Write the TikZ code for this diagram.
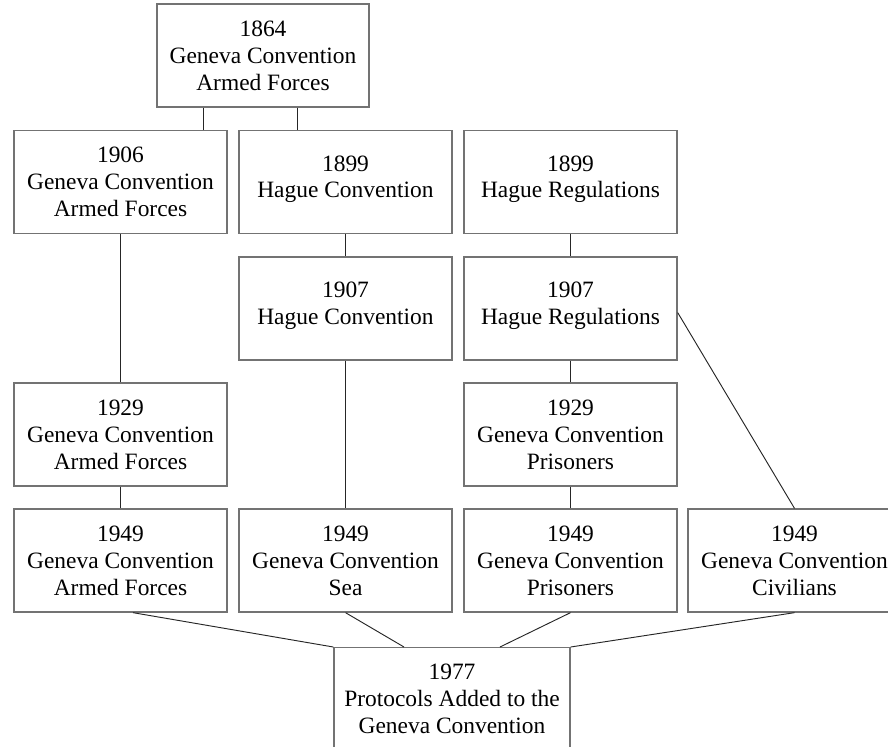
\documentclass[tikz,border=0pt]{standalone}
\usepackage{fontspec}
\setmainfont{Liberation Serif}
\usetikzlibrary{calc}

\begin{document}
\begin{tikzpicture}[x=0.03cm, y=-0.03cm,
        treaty/.style={draw=black!55, line width=1.1pt, fill=white, align=center,
            minimum width=6.39cm, minimum height=3.09cm, inner sep=0pt,
            font=\fontsize{20}{23}\selectfont},
        link/.style={draw=black!85, line width=0.8pt}]
        \clip (0,0) rectangle (888,746);

        \node [treaty, minimum width=6.36cm] (g1864) at (263,55.5) {1864\\Geneva Convention\\Armed Forces};

        \node [treaty] (g1906) at (120.5,182) {1906\\Geneva Convention\\Armed Forces};
        \node [treaty] (h1899c) at (345.5,182) {1899\\Hague Convention\\[-14pt]};
        \node [treaty] (h1899r) at (570.5,182) {1899\\Hague Regulations\\[-14pt]};

        \node [treaty] (h1907c) at (345.5,308.5) {1907\\Hague Convention\\[-14pt]};
        \node [treaty] (h1907r) at (570.5,308.5) {1907\\Hague Regulations\\[-14pt]};

        \node [treaty] (g1929a) at (120.5,434.5) {1929\\Geneva Convention\\Armed Forces};
        \node [treaty] (g1929p) at (570.5,434.5) {1929\\Geneva Convention\\Prisoners};

        \node [treaty] (g1949a) at (120.5,560.5) {1949\\Geneva Convention\\Armed Forces};
        \node [treaty] (g1949s) at (345.5,560.5) {1949\\Geneva Convention\\Sea};
        \node [treaty] (g1949p) at (570.5,560.5) {1949\\Geneva Convention\\Prisoners};
        \node [treaty] (g1949c) at (794.5,560.5) {1949\\Geneva Convention\\Civilians};

        \node [treaty, minimum width=7.08cm, anchor=north] (p1977) at (452,647) {1977\\Protocols Added to the\\Geneva Convention};

        \coordinate (s1) at ($(g1864.south west)+(47,0)$);
        \coordinate (s2) at ($(g1864.south west)+(141,0)$);
        \draw [link] (s1) -- (s1 |- g1906.north);
        \draw [link] (s2) -- (s2 |- h1899c.north);

        \draw [link] (g1906) -- (g1929a);
        \draw [link] (g1929a) -- (g1949a);
        \draw [link] (h1899c) -- (h1907c);
        \draw [link] (h1907c) -- (g1949s);
        \draw [link] (h1899r) -- (h1907r);
        \draw [link] (h1907r) -- (g1929p);
        \draw [link] (g1929p) -- (g1949p);
        \draw [link] ($(h1907r.east)+(0,4)$) -- (g1949c.north);

        \coordinate (b1) at ($(g1949a.south)+(12.5,0)$);
        \coordinate (p1) at ($(p1977.north)+(-48,0)$);
        \coordinate (p2) at ($(p1977.north)+(48,0)$);
        \draw [link] (b1) -- (p1977.north west);
        \draw [link] (g1949s.south) -- (p1);
        \draw [link] (g1949p.south) -- (p2);
        \draw [link] (g1949c.south) -- (p1977.north east);
    \end{tikzpicture}
\end{document}
